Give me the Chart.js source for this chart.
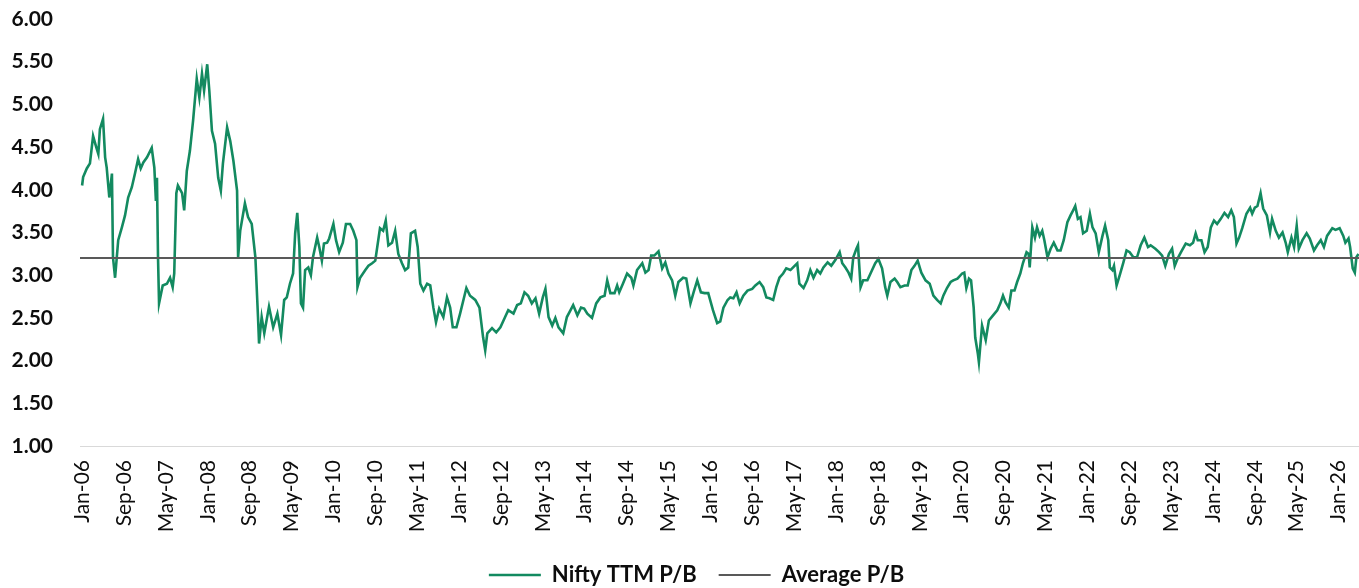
<!DOCTYPE html>
<html>
<head>
<meta charset="utf-8">
<title>Nifty TTM P/B</title>
<script src="https://cdn.jsdelivr.net/npm/chart.js@4.4.1/dist/chart.umd.min.js"></script>
<style>
    html, body { margin: 0; padding: 0; background: #fff; }
    .chart-box { width: 1359px; height: 588px; position: relative; }
</style>
</head>
<body>
<div class="chart-box"><canvas id="pbChart"></canvas></div>
<script>
// x-axis labels, one every 8 months starting Jan-06
const tickLabels = ['Jan-06', 'Sep-06', 'May-07', 'Jan-08', 'Sep-08', 'May-09', 'Jan-10', 'Sep-10',
    'May-11', 'Jan-12', 'Sep-12', 'May-13', 'Jan-14', 'Sep-14', 'May-15', 'Jan-16', 'Sep-16',
    'May-17', 'Jan-18', 'Sep-18', 'May-19', 'Jan-20', 'Sep-20', 'May-21', 'Jan-22', 'Sep-22',
    'May-23', 'Jan-24', 'Sep-24', 'May-25', 'Jan-26'];

// months since Jan-06 for each reading
const months = [
    0, 0.2, 0.9, 1.5, 2.1, 2.7, 3.1, 3.4, 4.0, 4.4, 4.7, 5.2, 5.7, 5.9, 6.3, 6.9, 7.6, 8.2, 8.8, 9.5, 10.1, 10.7, 11.2, 11.7,
    12.4, 13.3, 13.8, 14.1, 14.3, 14.5, 14.7, 15.4, 16.2, 16.8, 17.3, 17.6, 18.0, 18.3, 19.1, 19.5, 20.0, 20.6, 21.2, 21.9, 22.4, 22.9, 23.3,
    23.9, 24.3, 24.8, 25.4, 26.0, 26.5, 26.9, 27.7, 28.3, 28.9, 29.6, 29.8, 30.2, 31.1, 31.7, 32.4, 33.1, 33.6, 33.8, 34.3, 34.8, 35.7,
    36.5, 37.3, 38.0, 38.6, 39.1, 39.7, 40.3, 40.7, 41.1, 41.5, 41.8, 42.2, 42.6, 43.2, 43.7, 44.1, 44.9, 45.3, 45.8, 46.2, 46.8, 47.2,
    48.0, 48.5, 49.1, 49.8, 50.4, 51.2, 51.8, 52.4, 52.6, 53.1, 54.1, 54.7, 55.4, 56.0, 56.9, 57.5, 58.0, 58.5, 59.2, 59.8,
    60.4, 61.1, 61.7, 62.3, 62.8, 63.6, 64.1, 64.6, 65.2, 65.9, 66.5, 67.1, 67.6, 68.2, 69.0, 69.7, 70.3, 70.8, 71.5,
    72.2, 73.4, 74.1, 75.1, 75.9, 76.6, 77.0, 77.4, 78.3, 79.1, 79.9, 80.8, 81.4, 82.4, 83.1, 83.8,
    84.5, 85.2, 85.9, 86.6, 87.3, 88.0, 88.5, 89.1, 89.8, 90.4, 91.0, 91.9, 92.6, 93.3, 93.8, 94.6, 95.3, 95.9,
    96.5, 97.4, 98.2, 99.0, 99.8, 100.3, 100.9, 101.7, 102.2, 102.6, 103.3, 104.1, 104.9, 105.3, 106.0, 107.0, 107.6,
    108.2, 108.7, 109.3, 110.1, 110.8, 111.4, 112.0, 112.7, 113.3, 113.9, 114.8, 115.4, 116.2, 116.8, 117.5, 118.2, 118.9, 119.6,
    120.5, 121.3, 121.9, 122.5, 123.3, 123.8, 124.4, 125.0, 125.6, 126.3, 127.1, 128.0, 128.6, 129.4, 130.1, 130.7, 131.3,
    132.0, 132.6, 133.2, 133.9, 134.5, 135.3, 136.1, 136.6, 137.0, 137.8, 138.5, 139.1, 139.7, 140.4, 141.0, 141.6, 142.4, 143.1,
    143.9, 144.7, 145.2, 145.8, 146.4, 146.9, 147.3, 147.9, 148.2, 148.7, 149.2, 150.0, 150.9, 151.5, 152.1, 152.8, 153.4, 153.8,
    154.4, 155.2, 155.7, 156.3, 157.1, 157.7, 158.4, 159.0, 159.6, 160.3, 161.1, 161.9, 162.6, 163.3, 164.0, 164.5, 165.2, 165.9,
    166.4, 167.2, 168.1, 168.5, 168.9, 169.4, 169.8, 170.3, 170.6, 171.1, 171.3, 171.9, 172.6, 173.2, 174.0, 174.8, 175.4, 175.9,
    176.4, 177.0, 177.5, 178.1, 178.6, 179.2, 179.7, 180.4, 180.8, 181.0, 181.5, 182.0, 182.4, 182.9, 183.4, 183.8, 184.4, 185.0,
    185.6, 186.3, 186.9, 187.5, 188.2, 188.8, 189.3, 189.7, 190.2, 190.7, 191.2, 191.9, 192.5, 193.0, 193.6, 194.2, 194.9, 195.4,
    196.0, 196.3, 196.8, 197.1, 197.6, 198.2, 198.9, 199.5, 200.1, 200.8, 201.5, 202.2, 202.9, 203.6, 204.1, 205.0, 205.7, 206.3,
    206.9, 207.6, 208.2, 208.7, 209.3, 209.9, 210.8, 211.6, 212.2, 212.7, 213.1, 213.8, 214.4, 215.0, 215.6, 216.2, 216.8, 217.5,
    218.2, 218.9, 219.5, 220.0, 220.5, 221.0, 221.6, 222.4, 223.1, 223.5, 224.0, 224.5, 225.1, 225.6, 226.3, 226.9, 227.3, 228.0,
    228.6, 229.3, 229.9, 230.3, 231.0, 231.5, 232.0, 232.4, 233.1, 233.9, 234.5, 235.3, 235.9, 236.6, 237.2, 237.8, 238.8, 239.4,
    240.2, 240.9, 241.3, 241.9, 242.2, 242.7, 243.1, 243.4, 243.8
];

const pbValues = [
    4.05, 4.15, 4.25, 4.31, 4.63, 4.50, 4.42, 4.71, 4.83, 4.38, 4.26, 3.91, 4.19, 3.21, 2.97, 3.41, 3.56, 3.70, 3.91, 4.03, 4.19, 4.36, 4.25, 4.32,
    4.38, 4.49, 4.26, 3.87, 4.14, 3.21, 2.67, 2.88, 2.90, 2.97, 2.86, 3.02, 3.96, 4.05, 3.96, 3.76, 4.22, 4.46, 4.81, 5.30, 5.08, 5.36, 5.16,
    5.47, 5.16, 4.69, 4.54, 4.14, 3.99, 4.31, 4.73, 4.57, 4.34, 3.99, 3.21, 3.52, 3.84, 3.68, 3.60, 3.21, 2.51, 2.20, 2.51, 2.32, 2.63,
    2.39, 2.55, 2.30, 2.71, 2.74, 2.90, 3.02, 3.49, 3.73, 3.33, 2.67, 2.62, 3.06, 3.09, 3.00, 3.21, 3.44, 3.33, 3.17, 3.37, 3.38, 3.43,
    3.60, 3.41, 3.27, 3.38, 3.60, 3.60, 3.52, 3.41, 2.86, 2.97, 3.06, 3.11, 3.14, 3.17, 3.55, 3.52, 3.64, 3.35, 3.38, 3.52,
    3.25, 3.14, 3.06, 3.09, 3.49, 3.52, 3.33, 2.90, 2.82, 2.90, 2.88, 2.62, 2.45, 2.61, 2.51, 2.74, 2.62, 2.39, 2.39,
    2.55, 2.85, 2.76, 2.71, 2.62, 2.27, 2.12, 2.32, 2.38, 2.33, 2.39, 2.51, 2.59, 2.55, 2.65, 2.67,
    2.80, 2.76, 2.67, 2.73, 2.55, 2.74, 2.84, 2.51, 2.41, 2.50, 2.39, 2.32, 2.51, 2.59, 2.65, 2.53, 2.62, 2.61,
    2.55, 2.50, 2.67, 2.74, 2.76, 2.94, 2.79, 2.79, 2.88, 2.80, 2.90, 3.02, 2.97, 2.88, 3.06, 3.14, 3.03,
    3.06, 3.23, 3.23, 3.28, 3.08, 3.15, 3.02, 2.94, 2.76, 2.92, 2.97, 2.96, 2.67, 2.80, 2.94, 2.80, 2.79, 2.79,
    2.59, 2.44, 2.46, 2.62, 2.71, 2.74, 2.73, 2.80, 2.67, 2.76, 2.82, 2.84, 2.88, 2.92, 2.86, 2.74, 2.73,
    2.71, 2.86, 2.97, 3.02, 3.08, 3.06, 3.11, 3.14, 2.90, 2.85, 2.94, 3.06, 2.97, 3.06, 3.02, 3.09, 3.15, 3.11,
    3.18, 3.27, 3.14, 3.09, 3.03, 2.96, 3.21, 3.31, 3.35, 2.86, 2.94, 2.94, 3.06, 3.14, 3.19, 3.08, 2.86, 2.76,
    2.92, 2.96, 2.92, 2.86, 2.88, 2.88, 3.06, 3.11, 3.17, 3.03, 2.94, 2.90, 2.76, 2.71, 2.67, 2.76, 2.85, 2.92,
    2.94, 2.96, 3.02, 3.03, 2.85, 2.96, 2.94, 2.62, 2.27, 2.08, 1.98, 2.41, 2.24, 2.47, 2.53, 2.59, 2.67, 2.76,
    2.68, 2.62, 2.82, 2.82, 2.92, 3.02, 3.14, 3.27, 3.25, 3.09, 3.56, 3.44, 3.56, 3.46, 3.52, 3.41, 3.21, 3.31,
    3.38, 3.29, 3.29, 3.41, 3.62, 3.70, 3.76, 3.81, 3.66, 3.68, 3.49, 3.52, 3.72, 3.56, 3.49, 3.27, 3.46, 3.58,
    3.41, 3.09, 3.06, 3.11, 2.88, 3.00, 3.15, 3.29, 3.27, 3.21, 3.21, 3.35, 3.44, 3.33, 3.35, 3.31, 3.27, 3.23,
    3.11, 3.25, 3.31, 3.11, 3.20, 3.27, 3.37, 3.35, 3.38, 3.49, 3.41, 3.41, 3.27, 3.33, 3.56, 3.64, 3.60, 3.66,
    3.73, 3.68, 3.76, 3.68, 3.37, 3.44, 3.55, 3.72, 3.79, 3.72, 3.79, 3.81, 3.96, 3.78, 3.70, 3.50, 3.66, 3.52,
    3.44, 3.50, 3.38, 3.27, 3.44, 3.33, 3.58, 3.31, 3.41, 3.49, 3.43, 3.29, 3.35, 3.41, 3.33, 3.46, 3.55, 3.53,
    3.55, 3.46, 3.38, 3.43, 3.33, 3.08, 3.03, 3.21, 3.25
];

const avgPB = 3.20;

// axis range in months
const xMin = -0.4;
const xMax = 243.9;

const niftyPoints = months.map((m, i) => ({ x: m, y: pbValues[i] }));
const avgPoints = [
    { x: xMin, y: avgPB },
    { x: xMax, y: avgPB }
];

const textColor = '#0d0d0d';

// nudge the legend a little right, the way the original sits
const legendShift = {
    id: 'legendShift',
    afterLayout: function(chart) {
        if (chart.legend) {
            chart.legend.left += 34;
        }
    }
};

const ctx = document.getElementById('pbChart').getContext('2d');
const pbChart = new Chart(ctx, {
    type: 'line',
    data: {
        datasets: [{
            label: 'Nifty TTM P/B',
            data: niftyPoints,
            borderColor: '#138a60',
            backgroundColor: '#138a60',
            borderWidth: 2.6,
            pointRadius: 0,
            tension: 0,
            order: 1
        }, {
            label: 'Average P/B',
            data: avgPoints,
            borderColor: '#595959',
            backgroundColor: '#595959',
            borderWidth: 2,
            pointRadius: 0,
            order: 0
        }]
    },
    plugins: [legendShift],
    options: {
        responsive: true,
        maintainAspectRatio: false,
        animation: false,
        layout: {
            padding: { top: 19, right: 0, bottom: -8, left: 0 }
        },
        scales: {
            x: {
                type: 'linear',
                min: xMin,
                max: xMax,
                grid: { display: false, drawTicks: false },
                border: { display: true, color: '#d9d9d9', width: 1 },
                afterBuildTicks: function(scale) {
                    scale.ticks = tickLabels.map((t, i) => ({ value: i * 8 }));
                },
                afterFit: function(scale) {
                    scale.height = 96;
                    scale.paddingLeft = 0;
                    scale.paddingRight = 0;
                },
                ticks: {
                    autoSkip: false,
                    maxRotation: 90,
                    minRotation: 90,
                    padding: 14,
                    color: textColor,
                    font: { family: 'Lato', size: 21 },
                    callback: function(value) {
                        return tickLabels[Math.round(value / 8)];
                    }
                }
            },
            y: {
                min: 1,
                max: 6,
                grid: { display: false, drawTicks: false },
                border: { display: false },
                afterFit: function(scale) {
                    scale.width = 80;
                    scale.paddingTop = 0;
                    scale.paddingBottom = 0;
                },
                ticks: {
                    stepSize: 0.5,
                    padding: 27,
                    color: textColor,
                    font: { family: 'Lato', size: 21, weight: 'bold' },
                    callback: function(value) {
                        return value.toFixed(2);
                    }
                }
            }
        },
        plugins: {
            legend: {
                position: 'bottom',
                labels: {
                    usePointStyle: true,
                    pointStyle: 'line',
                    pointStyleWidth: 52,
                    padding: 22,
                    color: textColor,
                    font: { family: 'Lato', size: 22, weight: 'bold' },
                    sort: function(a, b) {
                        return a.datasetIndex - b.datasetIndex;
                    }
                }
            },
            tooltip: { enabled: false }
        }
    }
});
</script>
</body>
</html>
